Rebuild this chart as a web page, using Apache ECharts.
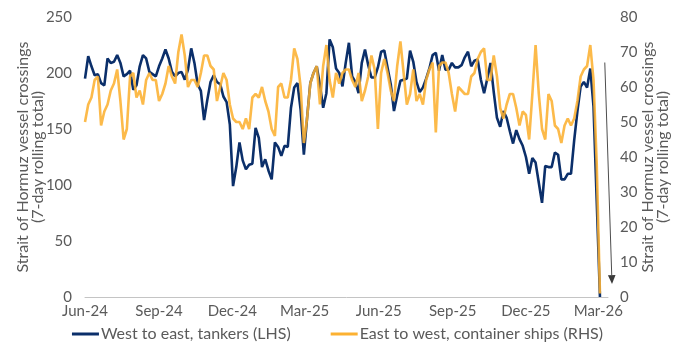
<!DOCTYPE html>
<html>
<head>
<meta charset="utf-8">
<script src="https://cdn.jsdelivr.net/npm/echarts@6/dist/echarts.min.js"></script>
<style>
  html, body { margin: 0; padding: 0; background: #ffffff; }
  #chart { width: 675px; height: 348px; }
</style>
</head>
<body>
<div id="chart"></div>
<script>
// 7-day rolling totals of Strait of Hormuz crossings, one reading every 4 days from 1 Jun 2024
const startDate = '2024-06-01';
const stepDays = 4;

const tickDates = ['2024-06-01', '2024-09-01', '2024-12-01', '2025-03-01',
                   '2025-06-01', '2025-09-01', '2025-12-01', '2026-03-01'];
const tickLabels = ['Jun-24', 'Sep-24', 'Dec-24', 'Mar-25', 'Jun-25', 'Sep-25', 'Dec-25', 'Mar-26'];
const axisEndDate = '2026-03-13';

// West to east, tankers (left axis)
const tankers = [
  195, 215, 206, 198, 199, 191, 189, 213, 209, 210,
  216, 209, 197, 199, 202, 185, 189, 206, 216, 213,
  201, 199, 197, 206, 213, 221, 213, 201, 197, 200,
  201, 194, 203, 222, 209, 190, 184, 158, 176, 192,
  198, 192, 190, 179, 174, 154, 99, 116, 138, 122,
  114, 118, 119, 151, 142, 116, 123, 113, 105, 138,
  134, 126, 135, 134, 169, 187, 191, 167, 127, 160,
  191, 200, 206, 189, 169, 182, 230, 223, 204, 200,
  188, 209, 227, 197, 192, 182, 209, 221, 207, 196,
  196, 205, 219, 220, 205, 190, 166, 180, 193, 194,
  195, 220, 210, 192, 183, 187, 195, 204, 216, 218,
  202, 216, 203, 203, 209, 205, 205, 207, 214, 219,
  206, 211, 212, 194, 182, 195, 209, 183, 160, 152,
  166, 160, 148, 137, 149, 141, 135, 125, 110, 124,
  120, 102, 84, 117, 116, 116, 129, 127, 105, 105,
  110, 110, 140, 166, 188, 192, 187, 204, 170, 85,
  0
];

// East to west, container ships (right axis)
const containers = [
  50, 55, 57, 62, 63, 49, 53, 55, 59, 61,
  65, 56, 45, 48, 63, 64, 57, 59, 55, 62,
  64, 62, 62, 56, 58, 61, 66, 63, 61, 70,
  75, 69, 60, 62, 62, 60, 64, 69, 69, 66,
  65, 56, 60, 64, 62, 55, 51, 50, 50, 48,
  51, 48, 57, 58, 57, 60, 56, 53, 48, 46,
  60, 61, 57, 57, 62, 71, 68, 60, 44, 51,
  61, 64, 66, 55, 66, 72, 62, 57, 64, 61,
  64, 65, 65, 62, 60, 64, 56, 59, 63, 69,
  65, 48, 64, 68, 64, 59, 56, 66, 73, 64,
  55, 58, 65, 56, 58, 55, 62, 65, 67, 47,
  66, 67, 67, 64, 58, 53, 60, 59, 58, 58,
  63, 64, 68, 70, 71, 62, 62, 69, 63, 54,
  51, 55, 58, 58, 54, 49, 53, 52, 45, 58,
  72, 58, 48, 45, 58, 56, 49, 48, 44, 49,
  51, 49, 51, 56, 63, 65, 66, 72, 62, 38,
  1
];

// Annotation arrow pointing at the collapse (right-axis units)
const arrowFrom = ['2026-03-09', 67];
const arrowTo = ['2026-03-18', 3.7];

const seriesNames = ['West to east, tankers (LHS)', 'East to west, container ships (RHS)'];
const axisTitle = 'Strait of Hormuz vessel crossings\n(7-day rolling total)';

const FONT = 'Lato, "Noto Sans", sans-serif';
const TEXT = '#5a5a5a';
const NAVY = '#0b2f6a';
const GOLD = '#fcb131';

// Days elapsed since the first reading
function dayOf(s) {
  const p = s.split('-').map(Number);
  const q = startDate.split('-').map(Number);
  return Math.round((Date.UTC(p[0], p[1] - 1, p[2]) - Date.UTC(q[0], q[1] - 1, q[2])) / 86400000);
}

const tickDays = tickDates.map(dayOf);
const tankerData = tankers.map((v, i) => [i * stepDays, v]);
const containerData = containers.map((v, i) => [i * stepDays, v]);

const chart = echarts.init(document.getElementById('chart'), null, { renderer: 'canvas' });

chart.setOption({
  animation: false,
  textStyle: { fontFamily: FONT },
  grid: { left: 85, right: 67, top: 17, bottom: 51, containLabel: false, outerBoundsMode: 'none' },
  legend: {
    data: seriesNames,
    bottom: 1,
    left: 'center',
    icon: 'rect',
    itemWidth: 27,
    itemHeight: 3,
    itemGap: 40,
    textStyle: { fontFamily: FONT, fontSize: 16, color: TEXT, padding: [0, 0, 0, -3] }
  },
  xAxis: {
    type: 'value',
    min: 0,
    max: dayOf(axisEndDate),
    axisLine: { show: true, lineStyle: { color: '#c4c4c4', width: 1 } },
    axisTick: { show: false },
    splitLine: { show: false },
    axisLabel: {
      customValues: tickDays,
      formatter: (v) => {
        const k = tickDays.indexOf(Math.round(v));
        return k >= 0 ? tickLabels[k] : '';
      },
      fontFamily: FONT,
      fontSize: 15,
      color: TEXT,
      margin: 7,
      showMinLabel: true,
      showMaxLabel: true
    }
  },
  yAxis: [
    {
      type: 'value',
      min: 0, max: 250, interval: 50,
      position: 'left',
      axisLine: { show: false },
      axisTick: { show: false },
      splitLine: { show: false },
      axisLabel: { fontFamily: FONT, fontSize: 15, color: TEXT, margin: 13 },
      name: axisTitle,
      nameLocation: 'middle',
      nameRotate: 90,
      nameGap: 40,
      nameMoveOverlap: false,
      nameTextStyle: { fontFamily: FONT, fontSize: 16, color: TEXT, lineHeight: 15 }
    },
    {
      type: 'value',
      min: 0, max: 80, interval: 10,
      position: 'right',
      axisLine: { show: false },
      axisTick: { show: false },
      splitLine: { show: false },
      axisLabel: { fontFamily: FONT, fontSize: 15, color: TEXT, margin: 12 },
      name: axisTitle,
      nameLocation: 'middle',
      nameRotate: 90,
      nameGap: 32,
      nameMoveOverlap: false,
      nameTextStyle: { fontFamily: FONT, fontSize: 16, color: TEXT, lineHeight: 15 }
    }
  ],
  series: [
    {
      name: seriesNames[0],
      type: 'line',
      yAxisIndex: 0,
      data: tankerData,
      showSymbol: false,
      symbol: 'none',
      lineStyle: { color: NAVY, width: 2.6 },
      itemStyle: { color: NAVY },
      z: 2
    },
    {
      name: seriesNames[1],
      type: 'line',
      yAxisIndex: 1,
      data: containerData,
      showSymbol: false,
      symbol: 'none',
      lineStyle: { color: GOLD, width: 2.6, opacity: 0.88 },
      itemStyle: { color: GOLD },
      z: 3
    }
  ]
});

// Arrow annotation placed through the chart's own scales
const a = chart.convertToPixel({ seriesIndex: 1 }, [dayOf(arrowFrom[0]), arrowFrom[1]]);
const b = chart.convertToPixel({ seriesIndex: 1 }, [dayOf(arrowTo[0]), arrowTo[1]]);
const dx = b[0] - a[0], dy = b[1] - a[1];
const len = Math.sqrt(dx * dx + dy * dy);
const ux = dx / len, uy = dy / len;
const head = 9, half = 3.8;
const baseX = b[0] - ux * head, baseY = b[1] - uy * head;

chart.setOption({
  graphic: [
    {
      type: 'line',
      shape: { x1: a[0], y1: a[1], x2: baseX, y2: baseY },
      style: { stroke: '#4d4d4d', lineWidth: 1 },
      silent: true
    },
    {
      type: 'polygon',
      shape: {
        points: [
          [b[0], b[1]],
          [baseX - uy * half, baseY + ux * half],
          [baseX + uy * half, baseY - ux * half]
        ]
      },
      style: { fill: '#3a3a3a' },
      silent: true
    }
  ]
});
</script>
</body>
</html>
